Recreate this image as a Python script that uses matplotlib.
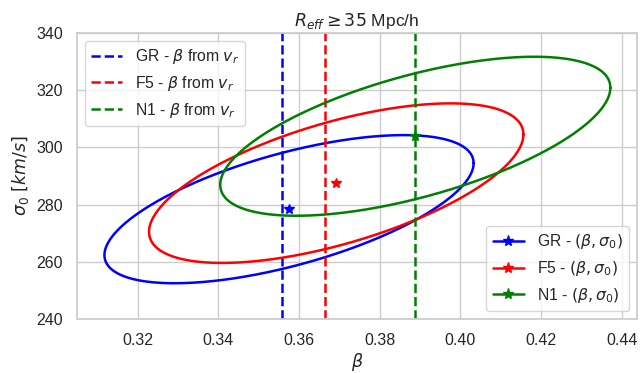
import numpy as np
import matplotlib
matplotlib.use("Agg")
import matplotlib.pyplot as plt
from matplotlib.lines import Line2D
import seaborn as sns

sns.set_theme(style="whitegrid", context="notebook")
plt.rcParams['font.family'] = ['Liberation Sans', 'DejaVu Sans']
plt.rcParams['mathtext.fontset'] = 'dejavusans'

models = ["GR", "F5", "N1"]
colors = ["blue", "red", "green"]
beta_center = [0.3575, 0.3692, 0.3888]
sigma_center = [278.4, 287.5, 303.9]
beta_err = [0.04575, 0.0464, 0.04835]
sigma_err = [25.9, 27.9, 27.8]
corr = [0.62, 0.61, 0.61]
beta_vr = [0.3557, 0.3665, 0.3887]

fig = plt.figure(figsize=(6.4, 3.73), dpi=100)
ax = fig.add_axes([0.120, 0.1448, 0.875, 0.7667])

t = np.linspace(0, 2 * np.pi, 400)
line_handles = []
ell_handles = []
lw = 1.8
for m, c, bc, sc, be, se, r, bv in zip(models, colors, beta_center, sigma_center,
                                       beta_err, sigma_err, corr, beta_vr):
    x = bc + be * np.cos(t)
    y = sc + se * (r * np.cos(t) + np.sqrt(1 - r ** 2) * np.sin(t))
    ax.plot(x, y, color=c, lw=lw)
    ax.plot([bc], [sc], marker='*', color=c, ms=7.5, ls='none')
    ax.axvline(bv, color=c, ls='--', lw=lw)
    line_handles.append(Line2D([], [], color=c, ls='--', lw=lw,
                               label=f"{m} - $\\beta$ from $v_r$"))
    ell_handles.append(Line2D([], [], color=c, lw=lw, marker='*', ms=8,
                              label=f"{m} - $(\\beta, \\sigma_0)$"))

ax.set_xlim(0.3049, 0.4437)
ax.set_ylim(240, 340)
ax.set_xticks([0.32, 0.34, 0.36, 0.38, 0.40, 0.42, 0.44])
ax.set_xticklabels(["0.32", "0.34", "0.36", "0.38", "0.40", "0.42", "0.44"])
ax.set_yticks([240, 260, 280, 300, 320, 340])
ax.tick_params(labelsize=11.5, pad=4)
ax.set_xlabel(r"$\beta$", fontsize=12.5, labelpad=2)
ax.set_ylabel(r"$\sigma_0\ [km/s]$", fontsize=12.5, labelpad=4)
ax.set_title(r"$R_{eff} \geq 35$ Mpc/h", fontsize=12.5, pad=5)

leg1 = ax.legend(handles=line_handles, loc='upper left', fontsize=11.3,
                 framealpha=0.8)
ax.add_artist(leg1)
ax.legend(handles=ell_handles, loc='lower right', fontsize=11.3, framealpha=0.8)

fig.savefig("out.png", dpi=100)
